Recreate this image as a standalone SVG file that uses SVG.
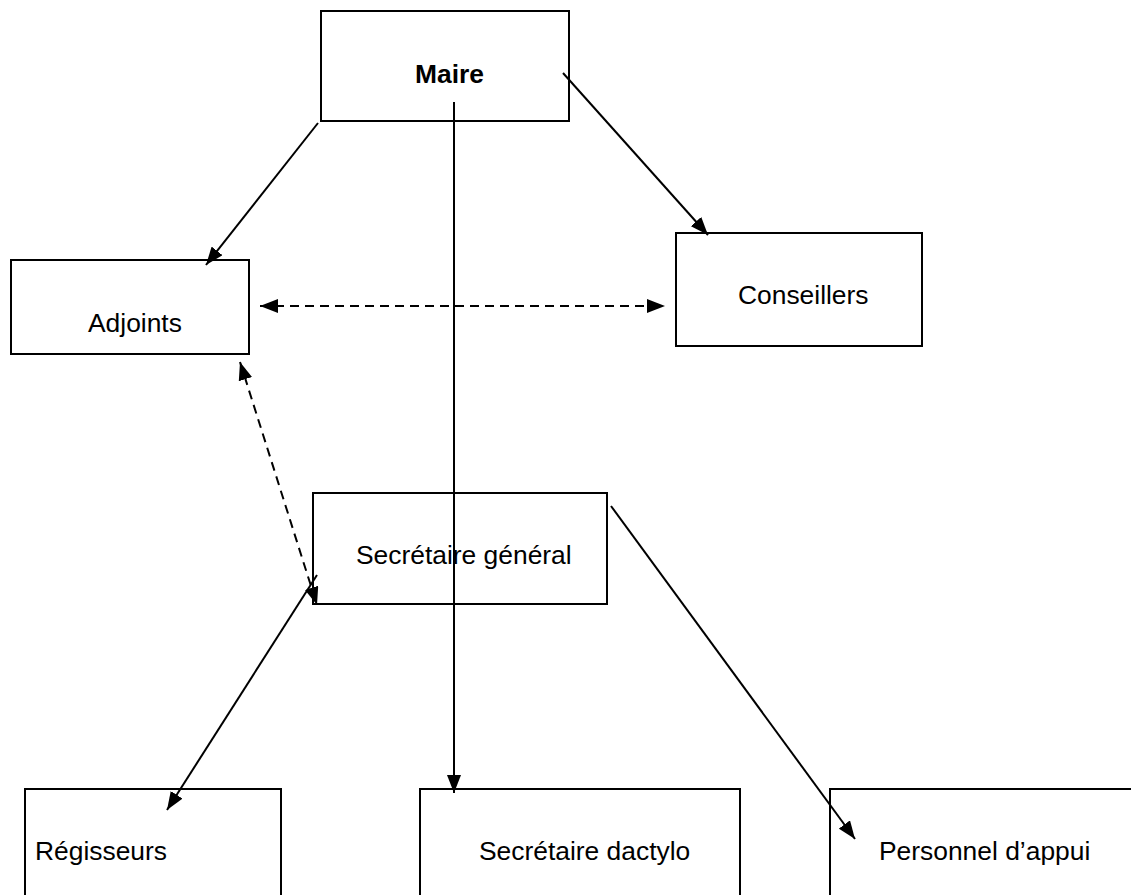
<svg xmlns="http://www.w3.org/2000/svg" width="1131" height="895" viewBox="0 0 1131 895">
<style>
.box{fill:#fff;stroke:#000;stroke-width:2}
.t{font-family:"Liberation Sans",Arial,sans-serif;font-size:26.4px;fill:#000}
.b{font-weight:bold}
.c{stroke:#000;stroke-width:2;fill:none}
.d{stroke-dasharray:9 6}
</style>
<defs>
<marker id="ah" viewBox="0 0 18 14" refX="18" refY="7" markerWidth="18" markerHeight="14" markerUnits="userSpaceOnUse" orient="auto-start-reverse">
<path d="M0,0 L18,7 L0,14 z" fill="#000"/>
</marker>
</defs>
<rect width="1131" height="895" fill="#fff"/>
<g id="maire"><rect class="box" x="321" y="11" width="248" height="110"/><text class="t b" x="415" y="83">Maire</text></g>
<g id="adjoints"><rect class="box" x="11" y="260" width="238" height="94"/><text class="t" x="88" y="332">Adjoints</text></g>
<g id="conseillers"><rect class="box" x="676" y="233" width="246" height="113"/><text class="t" x="738" y="304">Conseillers</text></g>
<g id="secretaire-general"><rect class="box" x="313" y="493" width="294" height="111"/><text class="t" x="356" y="564">Secrétaire général</text></g>
<g id="regisseurs"><rect class="box" x="25" y="789" width="256" height="120"/><text class="t" x="35" y="860">Régisseurs</text></g>
<g id="secretaire-dactylo"><rect class="box" x="420" y="789" width="320" height="120"/><text class="t" x="479" y="860">Secrétaire dactylo</text></g>
<g id="personnel-appui"><rect class="box" x="830" y="789" width="320" height="120"/><text class="t" x="879" y="860">Personnel d’appui</text></g>
<g id="connectors">
<line class="c" x1="318" y1="123" x2="206" y2="265" marker-end="url(#ah)"/>
<line class="c" x1="563" y1="73" x2="708" y2="235" marker-end="url(#ah)"/>
<line class="c" x1="454" y1="102" x2="454" y2="793" marker-end="url(#ah)"/>
<line class="c d" x1="260" y1="306" x2="665" y2="306" marker-start="url(#ah)" marker-end="url(#ah)"/>
<line class="c d" x1="240" y1="362" x2="317" y2="605" marker-start="url(#ah)" marker-end="url(#ah)"/>
<line class="c" x1="317" y1="575" x2="167" y2="810" marker-end="url(#ah)"/>
<line class="c" x1="611" y1="506" x2="855" y2="839" marker-end="url(#ah)"/>
</g>
</svg>
